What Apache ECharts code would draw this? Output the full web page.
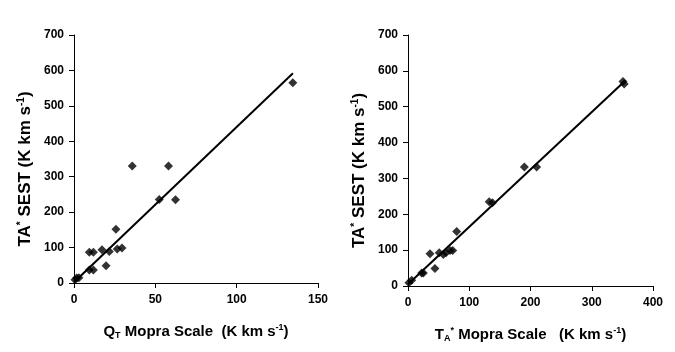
<!DOCTYPE html>
<html><head><meta charset="utf-8">
<script src="https://cdn.jsdelivr.net/npm/echarts@6/dist/echarts.min.js"></script>
<style>html,body{margin:0;padding:0;background:#fff}#c{width:675px;height:352px}</style>
</head><body><div id="c"></div>
<script>
// Left panel: Q_T Mopra vs TA* SEST
const leftX = [134.5, 35.8, 58.1, 52.4, 62.4, 25.8, 26.6, 29.5, 17.2, 21.7, 9.4, 11.9, 19.7, 9.4, 11.9, 1.6, 0.6, 3.0];
const leftY = [565, 330, 330, 236, 235, 152, 96, 99, 94, 89, 87, 87, 49, 37, 37, 14, 9, 15];
const leftFit = [[0, 2], [134.6, 592]];
// Right panel: TA* Mopra vs TA* SEST
const rightX = [353, 351, 190, 210, 132.6, 138, 79.5, 35.9, 51, 57.7, 62, 68.6, 73, 44, 25, 22.3, 6, 1.5];
const rightY = [563, 570, 332, 332, 235, 232, 152, 90, 93, 88, 93, 99, 99, 49, 36, 36, 16, 9];
const rightFit = [[0, 5], [355, 573]];
const leftTicksX = [0, 50, 100, 150];
const rightTicksX = [0, 100, 200, 300, 400];
const ticksY = [0, 100, 200, 300, 400, 500, 600, 700];

const pair = (xs, ys) => xs.map((x, i) => [x, ys[i]]);
const font = 'Liberation Sans, Arial, sans-serif';
const axisCommon = {
  axisLine: {show: true, lineStyle: {color: '#000', width: 1}},
  axisTick: {show: true, length: 5, lineStyle: {color: '#000'}},
  splitLine: {show: false},
  axisLabel: {color: '#000', fontFamily: font, fontWeight: 'bold', fontSize: 12}
};
const rich = (size) => ({
  n: {fontFamily: font, fontWeight: 'bold', fontSize: size, color: '#000'},
  sup: {fontFamily: font, fontWeight: 'bold', fontSize: Math.round(size * 0.6), color: '#000', verticalAlign: 'top', padding: [0, 0, 8, 0]},
  sub: {fontFamily: font, fontWeight: 'bold', fontSize: Math.round(size * 0.6), color: '#000', padding: [8, 0, 0, 0]},
  pad: {width: 20, fontSize: size}
});
const yName = '{n|TA}{sup|*}{n| SEST (K km s}{sup|-1}{n|)}{pad| }';
const yAxis = (gi) => Object.assign({}, axisCommon, {
  gridIndex: gi, type: 'value', min: 0, max: 700, interval: 100,
  axisLabel: Object.assign({}, axisCommon.axisLabel, {margin: 10}),
  name: yName, nameLocation: 'middle', nameRotate: 90, nameGap: 40,
  nameTextStyle: {rich: rich(17)}
});
const xAxis = (gi, max, interval, name) => Object.assign({}, axisCommon, {
  gridIndex: gi, type: 'value', min: 0, max: max, interval: interval,
  axisLabel: Object.assign({}, axisCommon.axisLabel, {margin: 11}),
  name: name, nameLocation: 'middle', nameGap: 40,
  nameTextStyle: {rich: rich(15)}
});
const mk = {symbol: 'diamond', symbolSize: 9, itemStyle: {color: '#000'}};

const chart = echarts.init(document.getElementById('c'), null, {renderer: 'canvas'});
chart.setOption({
  backgroundColor: '#fff',
  animation: false,
  grid: [
    {left: 74, top: 35, width: 244, height: 248},
    {left: 408, top: 35, width: 245, height: 251}
  ],
  xAxis: [
    xAxis(0, 150, 50, '{n|Q}{sub|T}{n| Mopra Scale  (K km s}{sup|-1}{n|)}'),
    xAxis(1, 400, 100, '{n|T}{sub|A}{sup|*}{n| Mopra Scale   (K km s}{sup|-1}{n|)}')
  ],
  yAxis: [yAxis(0), yAxis(1)],
  series: [
    {type: 'line', xAxisIndex: 0, yAxisIndex: 0, data: leftFit, showSymbol: false, lineStyle: {color: '#000', width: 2}, z: 1},
    Object.assign({type: 'scatter', xAxisIndex: 0, yAxisIndex: 0, data: pair(leftX, leftY), z: 2}, mk),
    {type: 'line', xAxisIndex: 1, yAxisIndex: 1, data: rightFit, showSymbol: false, lineStyle: {color: '#000', width: 2}, z: 1},
    Object.assign({type: 'scatter', xAxisIndex: 1, yAxisIndex: 1, data: pair(rightX, rightY), z: 2}, mk)
  ]
});
</script></body></html>
